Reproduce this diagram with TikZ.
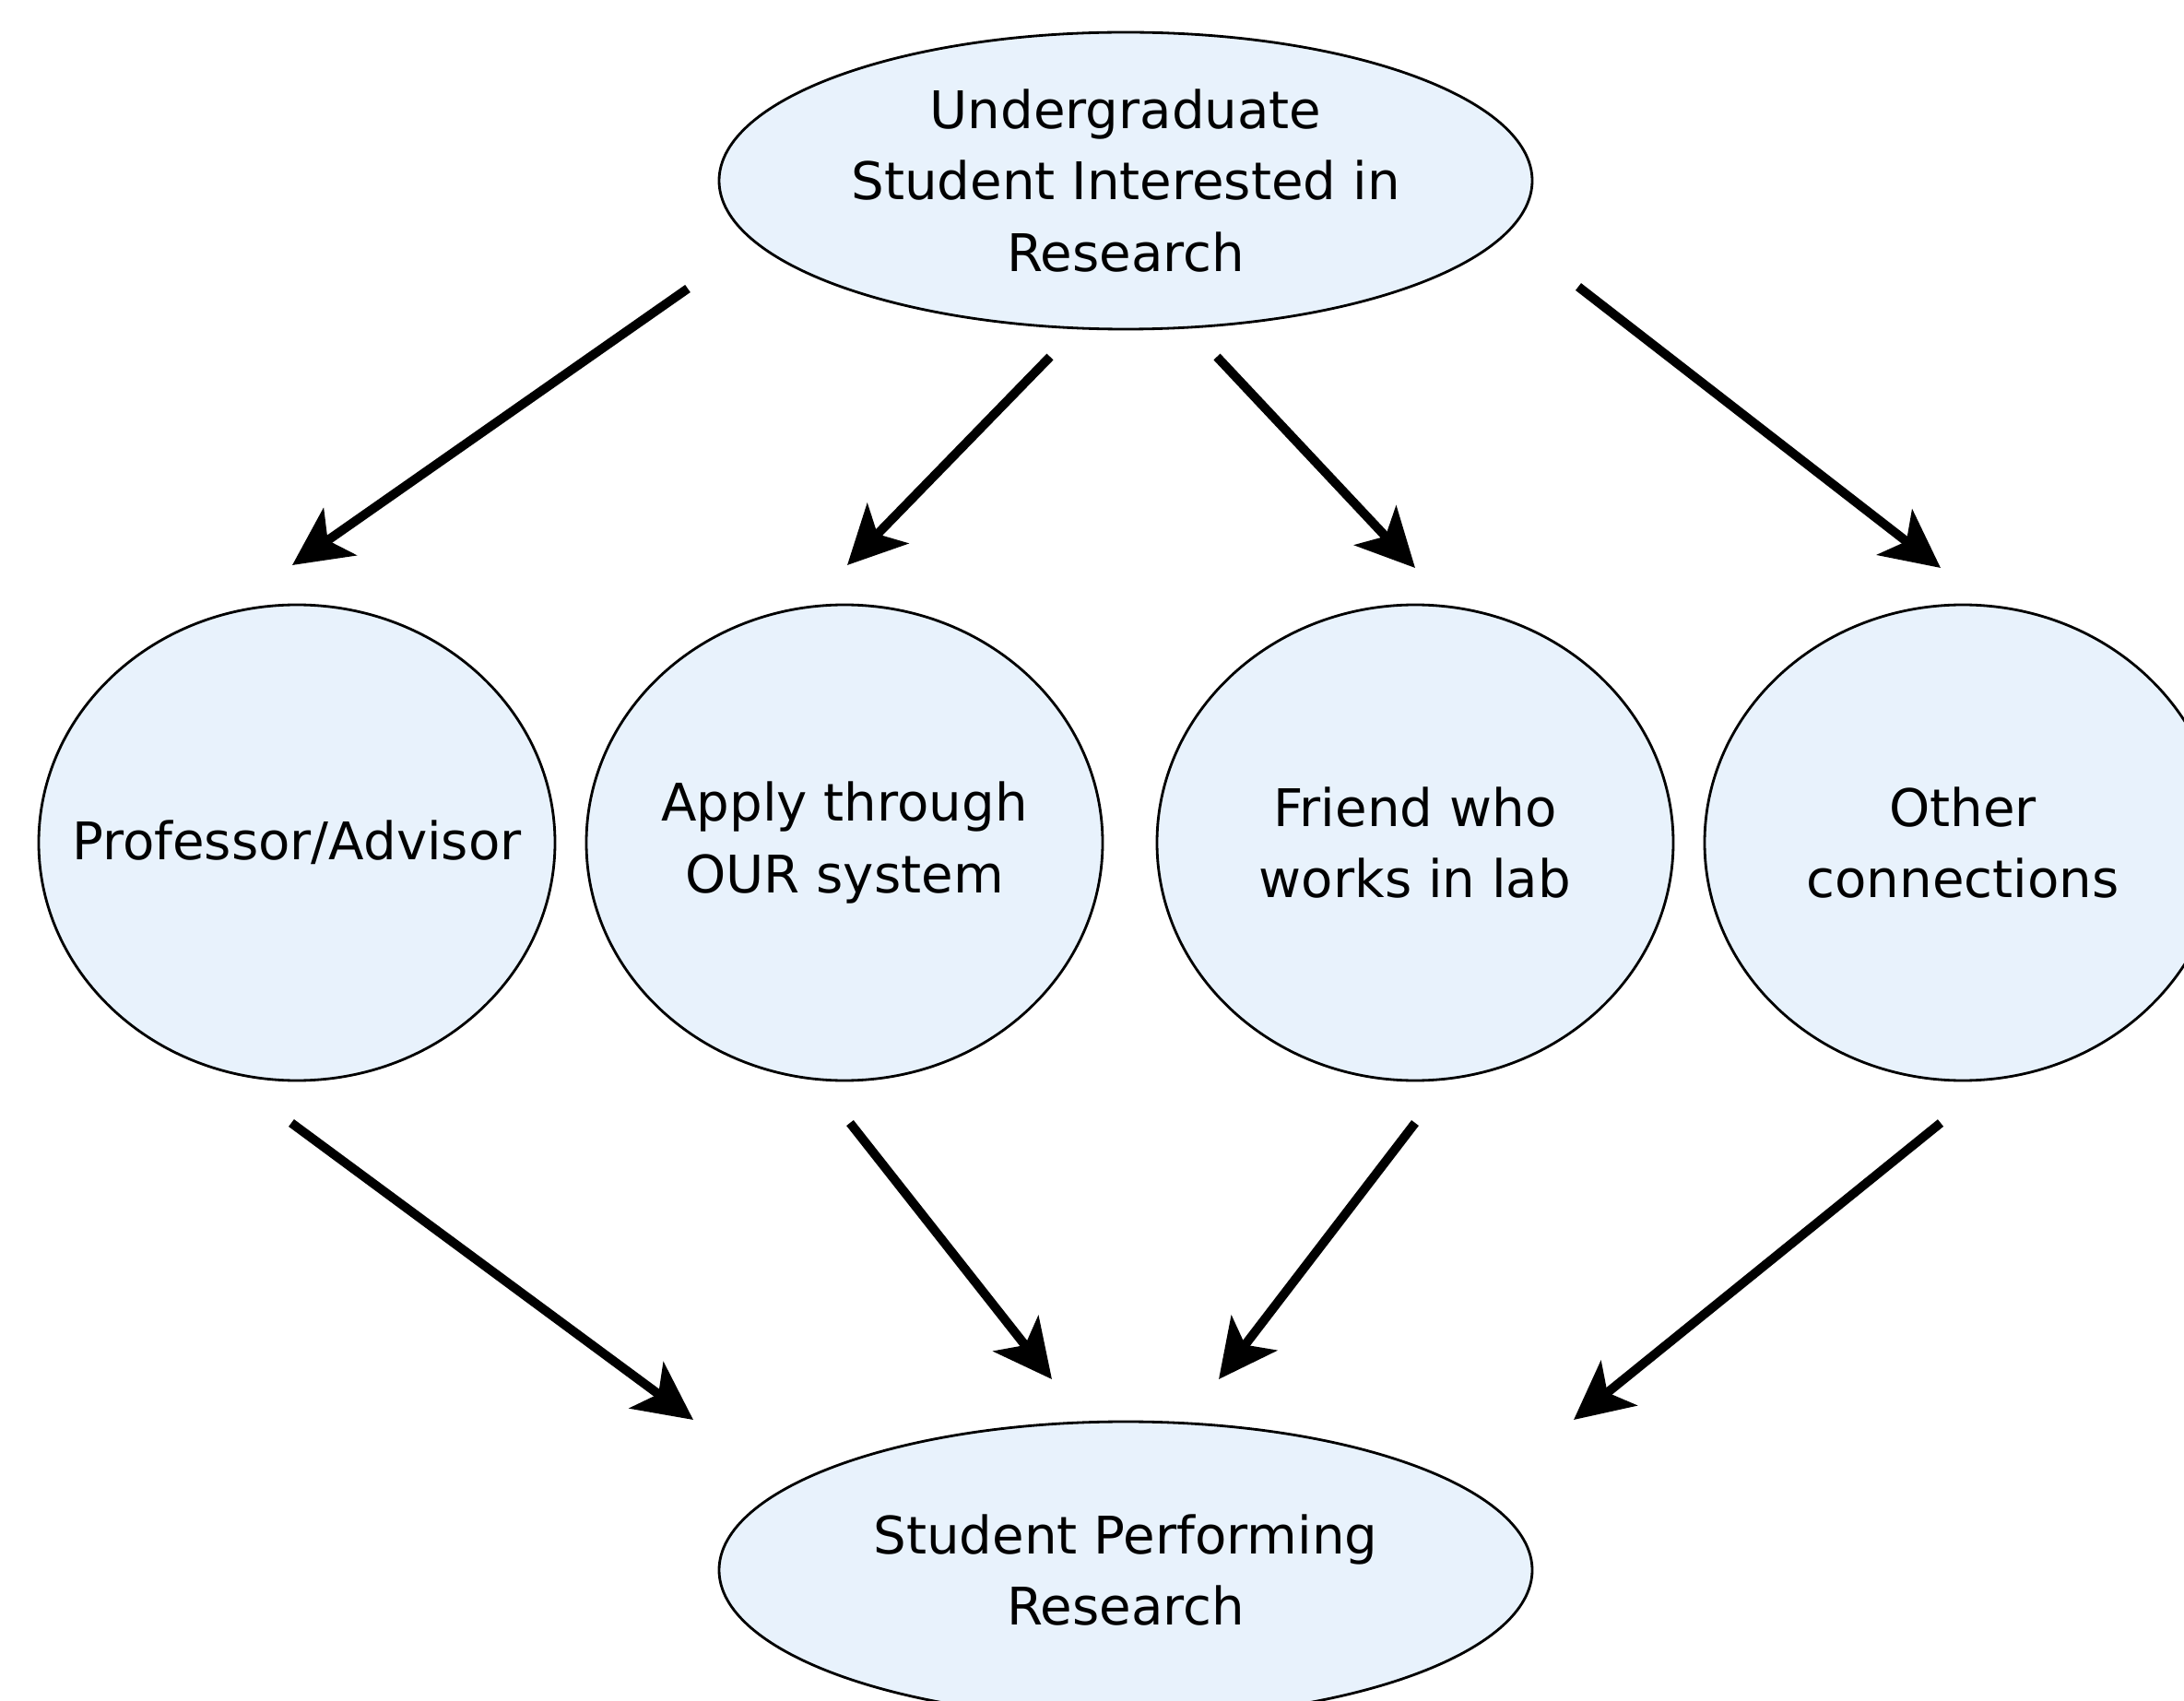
\documentclass[tikz,border=0pt]{standalone}
\usepackage{fontspec}
\setmainfont{DejaVu Sans}
\usetikzlibrary{shapes.geometric,arrows.meta,calc}
\definecolor{bubblefill}{RGB}{232,242,252}
\begin{document}
\begin{tikzpicture}[inner sep=0pt,outer sep=0pt,
bubble/.style={draw,ellipse,fill=bubblefill,line width=0.8pt,align=center,font=\fontsize{16pt}{22pt}\selectfont},
wide/.style={bubble,minimum width=8.82cm,minimum height=3.22cm},
round/.style={bubble,inner xsep=-1cm,minimum width=5.6cm,minimum height=5.16cm},
flow/.style={line width=2.8pt,-{Stealth[length=6.3mm,width=6.2mm,inset=1.6mm]}}]
\clip (0,0) rectangle (23.69,-18.45);
\draw (12.21,-1.96) node[wide] (top) {Undergraduate\\Student Interested in\\Research};
\draw (3.22,-9.14) node[round] (prof) {Professor/Advisor};
\draw (9.16,-9.14) node[round] (our) {Apply through\\OUR system};
\draw (15.35,-9.14) node[round] (friend) {Friend who\\works in lab};
\draw (21.29,-9.14) node[round] (other) {Other\\connections};
\draw (12.21,-17.03) node[wide] (done) {Student Performing\\Research};
% top to the four ways in
\draw[flow] ($(top)+(-4.75,-1.17)$) -- ($(prof)+(-0.05,3.01)$);
\draw[flow] ($(top)+(-0.82,-1.91)$) -- ($(our)+(0.03,3.01)$);
\draw[flow] ($(top)+(0.99,-1.91)$) -- ($(friend)+(0,2.98)$);
\draw[flow] ($(top)+(4.91,-1.15)$) -- ($(other)+(-0.24,2.98)$);
% the four ways in to research
\draw[flow] ($(prof)+(-0.06,-3.04)$) -- ($(done)+(-4.69,1.63)$);
\draw[flow] ($(our)+(0.06,-3.04)$) -- ($(done)+(-0.80,2.07)$);
\draw[flow] ($(friend)+(0,-3.04)$) -- ($(done)+(1.01,2.07)$);
\draw[flow] ($(other)+(-0.24,-3.04)$) -- ($(done)+(4.86,1.63)$);
\end{tikzpicture}
\end{document}
